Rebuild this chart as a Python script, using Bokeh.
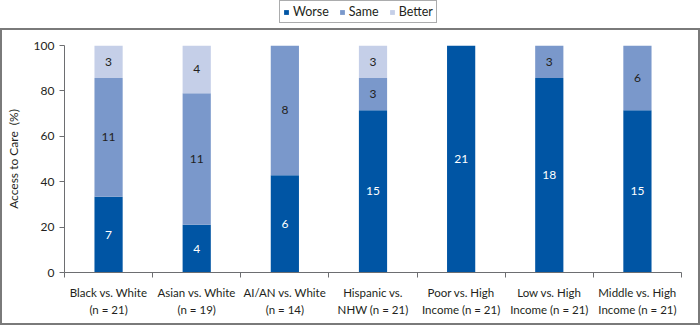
from bokeh.plotting import figure
from bokeh.layouts import column
from bokeh.models import (Range1d, FixedTicker, Legend, LegendItem, ColumnDataSource)
from bokeh.core.properties import value
from bokeh.embed import file_html
from bokeh.resources import INLINE

# ---- data ----
categories = ["Black vs. White\n(n = 21)", "Asian vs. White\n(n = 19)",
              "AI/AN vs. White\n(n = 14)", "Hispanic vs.\nNHW (n = 21)",
              "Poor vs. High\nIncome (n = 21)", "Low vs. High\nIncome (n = 21)",
              "Middle vs. High\nIncome (n = 21)"]
n_measures = [21, 19, 14, 21, 21, 21, 21]
worse = [7, 4, 6, 15, 21, 18, 15]
same = [11, 11, 8, 3, 0, 3, 6]
better = [3, 4, 0, 3, 0, 0, 0]
series = ["Worse", "Same", "Better"]
y_ticks = [0, 20, 40, 60, 80, 100]

FONT = "Lato"
TEXT = "#231f20"
GREY = "#6d6e71"
colors = ["#0055A4", "#7A98CB", "#C5CFE8"]

xs = [i + 0.5 for i in range(len(categories))]
pct = {
    "Worse": [w / n * 100 for w, n in zip(worse, n_measures)],
    "Same": [s / n * 100 for s, n in zip(same, n_measures)],
    "Better": [b / n * 100 for b, n in zip(better, n_measures)],
}
src = ColumnDataSource(dict(x=xs, **pct))

B = 2
TOP = 28
ML, MR = 64 - B, 700 + B - 681

# ---------- legend strip (outside the box) ----------
leg = figure(width=700, height=TOP, output_backend="svg", toolbar_location=None,
             x_axis_type=None, y_axis_type=None, x_range=Range1d(0, 1),
             y_range=Range1d(0, 1), min_border=0, min_border_left=ML,
             min_border_right=MR)
leg.grid.visible = False
leg.outline_line_color = None
leg.border_fill_color = None
leg.background_fill_color = None
leg_src = ColumnDataSource(dict(x=[-5.0], Worse=[0.0], Same=[0.0], Better=[0.0]))
leg_r = leg.vbar_stack(series, x="x", width=0.1, source=leg_src, color=colors,
                       line_color=None)
legend = Legend(items=[LegendItem(label=s, renderers=[r]) for s, r in zip(series, leg_r)],
                orientation="horizontal", location=(279 - ML, 5),
                glyph_width=6, glyph_height=6, label_height=12, label_standoff=4,
                spacing=10, padding=3, margin=0,
                label_text_font=FONT, label_text_font_size="12.5px",
                label_text_color=TEXT,
                border_line_color="#58595b", border_line_width=1,
                background_fill_alpha=1)
leg.add_layout(legend, "center")

# ---------- main chart (boxed) ----------
p = figure(width=700, height=297, output_backend="svg",
           toolbar_location=None,
           x_range=Range1d(0, len(categories)), y_range=Range1d(0, 100),
           min_border_left=ML, min_border_right=MR,
           min_border_top=45 - TOP - B, min_border_bottom=TOP + B + 297 - 272,
           styles={"border": f"{B}px solid #7a7a7a", "overflow": "hidden"})
p.grid.visible = False
p.outline_line_color = None
p.background_fill_color = None
p.border_fill_color = "white"

p.vbar_stack(series, x="x", width=0.32, source=src, color=colors, line_color=None)

# segment labels
lx, ly, lt, lc = [], [], [], []
counts = {"Worse": worse, "Same": same, "Better": better}
for i in range(len(categories)):
    base = 0.0
    for s in series:
        v = pct[s][i]
        c = counts[s][i]
        if c > 0:
            lx.append(xs[i]); ly.append(base + v / 2); lt.append(str(c))
            lc.append("white" if s == "Worse" else TEXT)
        base += v
p.text(x=lx, y=ly, text=lt, text_color=lc, text_align="center",
       text_baseline="middle", text_font=value(FONT), text_font_size="12px")

# axes
ax = p.xaxis[0]
ax.ticker = FixedTicker(ticks=xs, minor_ticks=list(range(len(categories) + 1)))
ax.major_label_overrides = {x: c for x, c in zip(xs, categories)}
ax.major_tick_line_color = None
ax.major_tick_out = 0
ax.major_tick_in = 0
ax.minor_tick_out = 5
ax.minor_tick_in = 0
ax.minor_tick_line_color = GREY
ax.axis_line_color = GREY
ax.major_label_standoff = 8
ax.major_label_text_font = FONT
ax.major_label_text_font_size = "11.5px"
ax.major_label_text_color = TEXT
ax.major_label_text_line_height = 1.35

ay = p.yaxis[0]
ay.ticker = FixedTicker(ticks=y_ticks, minor_ticks=[])
ay.major_tick_out = 5
ay.major_tick_in = 0
ay.major_tick_line_color = GREY
ay.axis_line_color = GREY
ay.major_label_standoff = 5
ay.major_label_text_font = FONT
ay.major_label_text_font_size = "12px"
ay.major_label_text_color = TEXT
ay.axis_label = "Access to Care\u00a0\u00a0(%)"
ay.axis_label_text_font = FONT
ay.axis_label_text_font_style = "normal"
ay.axis_label_text_font_size = "12px"
ay.axis_label_text_color = TEXT
ay.axis_label_standoff = 10

layout = column(leg, p, spacing=0)
open("out.html", "w").write(file_html(layout, INLINE))
